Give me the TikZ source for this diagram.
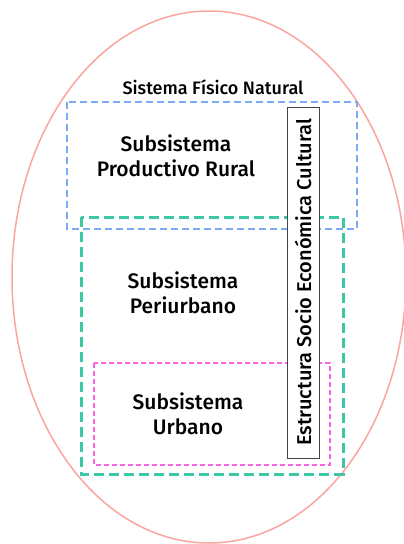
\documentclass[tikz,border=0pt]{standalone}
\usepackage{fontspec}
\setmainfont{Fira Sans Medium}
\definecolor{ellcol}{RGB}{250,165,160}
\definecolor{bluecol}{RGB}{125,170,245}
\definecolor{greencol}{RGB}{60,200,165}
\definecolor{magcol}{RGB}{255,95,225}
\definecolor{boxcol}{RGB}{70,70,70}
\tikzset{
  lbl/.style={align=center, inner sep=0pt, font=\fontsize{21}{25}\selectfont},
  toplbl/.style={inner sep=0pt, font=\fontsize{18}{22}\selectfont},
  bluebox/.style={draw=bluecol, line width=1.6pt, dash pattern=on 7pt off 4pt},
  greenbox/.style={draw=greencol, line width=3pt, dash pattern=on 10pt off 5pt},
  magbox/.style={draw=magcol, line width=1.3pt, dash pattern=on 5pt off 3pt},
  vbox/.style={draw=boxcol, fill=white, line width=1pt, inner sep=0pt,
    minimum width=351pt, minimum height=32pt, font=\fontsize{20}{24}\selectfont},
}
\begin{document}
\begin{tikzpicture}[x=1pt,y=-1pt]
\useasboundingbox (0,0) rectangle (404,544);
\draw[ellcol, line width=1.5pt] (209,277) ellipse [x radius=197, y radius=266];
\draw[bluebox] (67,102) rectangle (357,229);
\draw[greenbox] (81,217) rectangle (343,474);
\draw[magbox] (94,363) rectangle (330,465);
\node[vbox, rotate=90] (esc) at (303,282.5) {Estructura Socio Económica Cultural};
\node[toplbl] (sfn) at (213,87) {Sistema Físico Natural};
\node[lbl] (rural) at (176,156) {Subsistema\\Productivo Rural};
\node[lbl] (peri) at (183,293) {Subsistema\\Periurbano};
\node[lbl] (urb) at (188,414) {Subsistema\\Urbano};
\end{tikzpicture}
\end{document}
